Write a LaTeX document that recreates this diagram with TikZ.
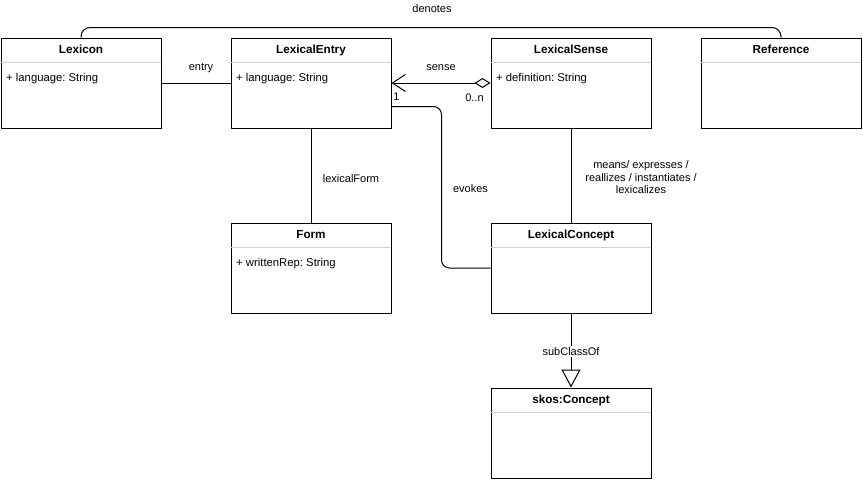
\documentclass[tikz,border=0pt]{standalone}
\usepackage{fontspec}
\setmainfont{Liberation Sans}
\usetikzlibrary{arrows.meta}
\begin{document}
\frenchspacing
\begin{tikzpicture}[x=1pt,y=-1pt,
  cls/.style={draw, line width=1pt, minimum width=160pt, minimum height=90pt, inner sep=0pt, fill=white},
  ttl/.style={anchor=base, inner sep=0pt, font=\fontsize{11.7}{14}\selectfont\bfseries},
  attr/.style={anchor=base west, inner sep=0pt, font=\fontsize{11.3}{14}\selectfont},
  lbl/.style={inner sep=1pt, font=\fontsize{11}{12.5}\selectfont, align=center},
  conn/.style={line width=1pt},
  sep/.style={draw=black!18, line width=1.5pt}
]
\useasboundingbox (0,0) rectangle (863,483);
\fill[white] (0,0) rectangle (863,483);

% classes
\node[cls] (lexicon) at (81,83) {};
\node[cls] (entry) at (311,83) {};
\node[cls] (lexsense) at (571,83) {};
\node[cls] (reference) at (781,83) {};
\node[cls] (form) at (311,268) {};
\node[cls] (lexconcept) at (571,268) {};
\node[cls] (skos) at (571,433) {};

% separators
\foreach \n in {lexicon,entry,lexsense,reference,form,lexconcept,skos}{
  \draw[sep] ([yshift=-25pt,xshift=0.6pt]\n.north west) -- ([yshift=-25pt,xshift=-0.6pt]\n.north east);
}

% titles
\node[ttl] (tlexicon) at (81,53) {Lexicon};
\node[ttl] (tentry) at (311,53) {LexicalEntry};
\node[ttl] (tlexsense) at (571,53) {LexicalSense};
\node[ttl] (treference) at (781,53) {Reference};
\node[ttl] (tform) at (311,238) {Form};
\node[ttl] (tlexconcept) at (571,238) {LexicalConcept};
\node[ttl] (tskos) at (571,403) {skos:Concept};

% attributes
\node[attr] (alexicon) at (6,81.5) {+ language: String};
\node[attr] (aentry) at (236,81.5) {+ language: String};
\node[attr] (alexsense) at (496,81.5) {+ definition: String};
\node[attr] (aform) at (236,266.5) {+ writtenRep: String};

% connectors
\draw[conn, rounded corners=9pt] (lexicon.north) -- ++(0,-10) -| (reference.north);
\node[lbl] (ldenotes) at (432,8.5) {denotes};

\draw[conn] (lexicon.east) -- (entry.east -| entry.west);
\node[lbl] (lentry) at (201,68.5) {entry};

\draw[conn, {Diamond[fill=white, length=16pt, width=10pt, line width=1pt]}-{Straight Barb[length=13pt, width=17pt, line width=1pt]}]
  (lexsense.west) -- (entry.east);
\node[lbl] (lsense) at (441,68) {sense};
\node[lbl] (lone) at (396.5,96.5) {1};
\node[lbl] (lzeron) at (474.5,97.5) {0..n};

\draw[conn] (entry.south) -- (form.north);
\node[lbl] (lform) at (351,179) {lexicalForm};

\draw[conn, rounded corners=8pt] ([yshift=-23.5pt]entry.east) -- ++(50,0) |- (lexconcept.west);
\node[lbl] (levokes) at (470.5,189) {evokes};

\draw[conn] (lexsense.south) -- (lexconcept.north);
\node[lbl] (lmeans) at (641,177.5) {means/ expresses /\\reallizes / instantiates /\\lexicalizes};

\draw[conn, -{Triangle[open, fill=white, length=18pt, width=19pt, line width=1pt]}]
  (lexconcept.south) -- (skos.north);
\node[lbl, fill=white] (lsub) at (571,351.5) {subClassOf};
\end{tikzpicture}
\end{document}
